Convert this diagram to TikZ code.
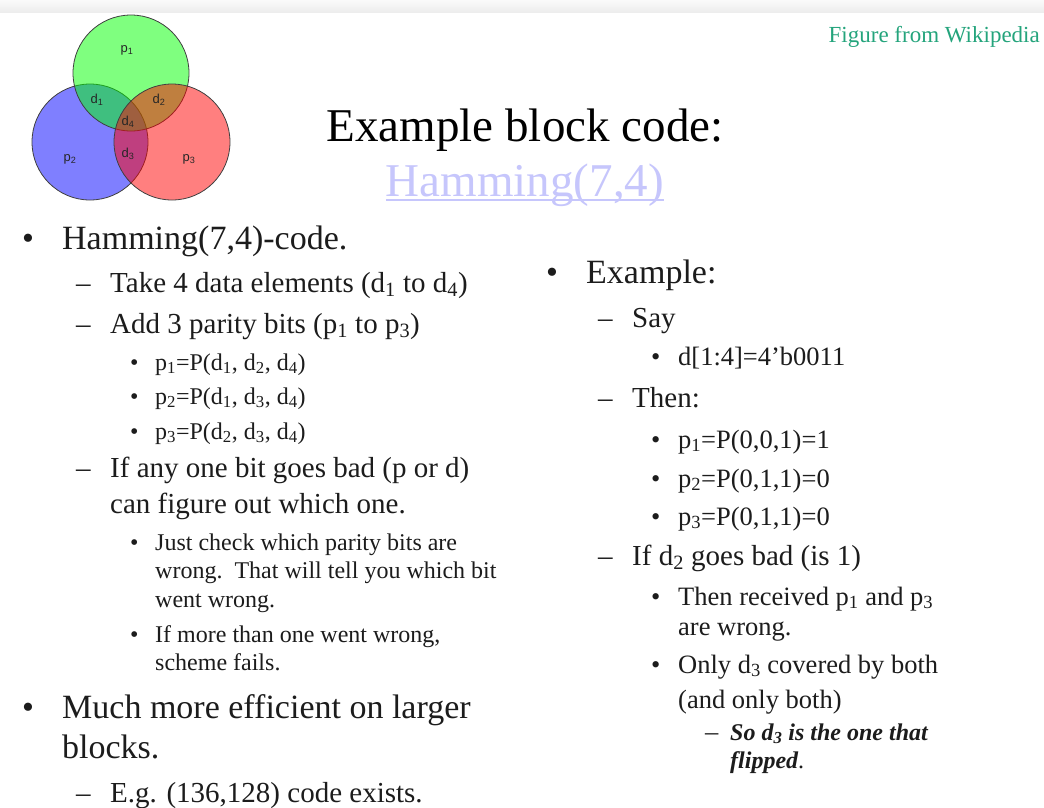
\documentclass[tikz,border=0pt]{standalone}
\usepackage{fontspec}
\setmainfont{Liberation Serif}
\newfontfamily\vennfont{Liberation Sans}
\definecolor{linkblue}{RGB}{198,198,252}
\definecolor{wikigreen}{RGB}{36,164,124}
\definecolor{bodytext}{RGB}{28,28,28}
\newcommand{\sbs}[1]{\textsubscript{#1}}

\begin{document}
\begin{tikzpicture}[x=1pt,y=-1pt,
  every node/.style={inner sep=0pt,text=bodytext},
  lone/.style={anchor=base west,font=\fontsize{34}{40}\selectfont},
  ltwo/.style={anchor=base west,font=\fontsize{29}{34}\selectfont},
  lthree/.style={anchor=base west,font=\fontsize{24}{28}\selectfont},
  rthree/.style={anchor=base west,font=\fontsize{26.5}{30}\selectfont},
  rfour/.style={anchor=base west,font=\fontsize{24}{28}\selectfont\bfseries\itshape},
  venn/.style={draw=black!75,line width=0.8pt,fill opacity=0.5},
  vlabel/.style={font=\vennfont\fontsize{13}{14}\selectfont,text=black!85}]
\useasboundingbox [fill=white] (0,0) rectangle (1044,807);
\shade [top color=gray!4,bottom color=gray!14] (0,0) rectangle (1044,12);
% venn diagram
\filldraw [venn,fill=blue] (90,142) circle (58);
\filldraw [venn,fill=green] (131,73) circle (58);
\filldraw [venn,fill=red] (172,142) circle (58);
\node [vlabel] (vp1) at (127,50) {p\sbs{1}};
\node [vlabel] (vd1) at (97,100) {d\sbs{1}};
\node [vlabel] (vd2) at (159,100) {d\sbs{2}};
\node [vlabel] (vd4) at (128,122) {d\sbs{4}};
\node [vlabel] (vd3) at (128,154) {d\sbs{3}};
\node [vlabel] (vp2) at (70,159) {p\sbs{2}};
\node [vlabel] (vp3) at (189,159) {p\sbs{3}};
% title
\node [anchor=base east,font=\fontsize{23}{26}\selectfont,text=wikigreen] (wiki) at (1040,42) {Figure from Wikipedia};
\node [anchor=base,font=\fontsize{47}{54}\selectfont,text=black] (title) at (525,141) {Example block code:};
\node [anchor=base,font=\fontsize{47}{54}\selectfont,text=linkblue] (link) at (525,196) {Hamming(7,4)};
\draw [linkblue,line width=1.4pt] ([yshift=-4pt]link.base west) -- ([yshift=-4pt]link.base east);
% left column
\node [lone] (b1) at (22,249) {•};
\node [lone] (hc) at (62,249) {Hamming(7,4)-code.};
\node [ltwo] (m1) at (76,292) {–};
\node [ltwo] (take) at (110,292) {Take 4 data elements (d\sbs{1} to d\sbs{4})};
\node [ltwo] (m2) at (76,333) {–};
\node [ltwo] (add) at (110,333) {Add 3 parity bits (p\sbs{1} to p\sbs{3})};
\node [lthree] (b2) at (130,370) {•};
\node [lthree] (pa) at (155,370) {p\sbs{1}=P(d\sbs{1}, d\sbs{2}, d\sbs{4})};
\node [lthree] (b3) at (130,404) {•};
\node [lthree] (pb) at (155,404) {p\sbs{2}=P(d\sbs{1}, d\sbs{3}, d\sbs{4})};
\node [lthree] (b4) at (130,439) {•};
\node [lthree] (pc) at (155,439) {p\sbs{3}=P(d\sbs{2}, d\sbs{3}, d\sbs{4})};
\node [ltwo] (m3) at (76,477) {–};
\node [ltwo] (bad) at (110,477) {If any one bit goes bad (p or d)};
\node [ltwo] (bad2) at (110,513) {can figure out which one.};
\node [lthree] (b5) at (130,550) {•};
\node [lthree] (chk) at (155,550) {Just check which parity bits are};
\node [lthree] (chk2) at (155,578) {wrong.\ \ That will tell you which bit};
\node [lthree] (chk3) at (155,607) {went wrong.};
\node [lthree] (b6) at (130,642) {•};
\node [lthree] (fail) at (155,642) {If more than one went wrong,};
\node [lthree] (fail2) at (155,670) {scheme fails.};
\node [lone] (b7) at (22,718) {•};
\node [lone] (eff) at (62,718) {Much more efficient on larger};
\node [lone] (eff2) at (62,758) {blocks.};
\node [ltwo] (m4) at (76,802) {–};
\node [ltwo] (eg) at (110,802) {E.g. (136,128) code exists.};
% right column
\node [lone] (b8) at (546,283) {•};
\node [lone] (ex) at (586,283) {Example:};
\node [ltwo] (m5) at (598,327) {–};
\node [ltwo] (say) at (632,327) {Say};
\node [rthree] (b9) at (651,365) {•};
\node [rthree] (dval) at (678,365) {d[1:4]=4’b0011};
\node [ltwo] (m6) at (598,407) {–};
\node [ltwo] (then) at (632,407) {Then:};
\node [rthree] (b10) at (651,448) {•};
\node [rthree] (ra) at (678,448) {p\sbs{1}=P(0,0,1)=1};
\node [rthree] (b11) at (651,487) {•};
\node [rthree] (rb) at (678,487) {p\sbs{2}=P(0,1,1)=0};
\node [rthree] (b12) at (651,525) {•};
\node [rthree] (rc) at (678,525) {p\sbs{3}=P(0,1,1)=0};
\node [ltwo] (m7) at (598,565) {–};
\node [ltwo] (flip) at (632,565) {If d\sbs{2} goes bad (is 1)};
\node [rthree] (b13) at (651,605) {•};
\node [rthree] (recv) at (678,605) {Then received p\sbs{1} and p\sbs{3}};
\node [rthree] (recv2) at (678,635) {are wrong.};
\node [rthree] (b14) at (651,673) {•};
\node [rthree] (only) at (678,673) {Only d\sbs{3} covered by both};
\node [rthree] (only2) at (678,708) {(and only both)};
\node [rthree] (m8) at (705,740) {–};
\node [rfour] (so) at (730,740) {So d\sbs{3} is the one that};
\node [rfour] (so2) at (730,768) {flipped\normalfont.};
\end{tikzpicture}
\end{document}
